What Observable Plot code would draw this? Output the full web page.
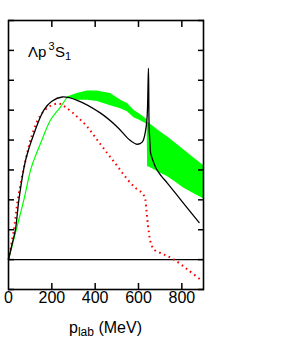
<!DOCTYPE html>
<html>
<head>
<meta charset="utf-8">
<script src="https://cdn.jsdelivr.net/npm/d3@7"></script>
<script src="https://cdn.jsdelivr.net/npm/@observablehq/plot@0.6"></script>
<style>
  html, body { margin: 0; padding: 0; background: #fff; }
  #chart svg { display: block; }
</style>
</head>
<body>
<div id="chart"></div>
<script>
// x tick labels
const xTicks = [0, 200, 400, 600, 800];
const yTicks = [-10, 0, 10, 20, 30, 40, 50, 60, 70, 80];

// black solid curve
const blackX = [0, 16, 32, 48, 78, 117, 163, 200, 248, 317, 425, 502, 560, 595, 618, 633, 640, 646, 649, 653, 656, 665, 683, 705, 733, 795, 880];
const blackY = [0, 5, 10, 20, 33, 42, 50, 53, 54.4, 53.3, 49, 44.4, 40, 38.6, 39.4, 43.3, 48, 64, 44.4, 39, 35.6, 33.5, 30.3, 28, 25.6, 20, 12.4];

// red dotted curve
const redX = [0, 25, 43, 78, 110, 148, 186, 233, 264, 317, 364, 410, 456, 495, 533, 579, 618, 630, 636, 641, 647, 653, 662, 672, 718, 764, 826, 895];
const redY = [0, 10, 20, 33, 42, 48.3, 51.1, 52.2, 51, 47.8, 44.4, 40, 35.6, 32, 28.3, 24.4, 22.2, 20.5, 17, 13.3, 9.5, 6.7, 4.5, 3.3, 1.7, 0, -3.3, -7.2];

// green thin line (low momenta)
const greenX = [0, 50, 71, 102, 117, 148, 194, 240, 271];
const greenY = [0, 14, 20, 30, 33.3, 38.9, 46.7, 51.1, 54.4];

// green band
const bandX = [271, 317, 364, 410, 471, 518, 549, 579, 610, 633, 640, 642, 649, 700, 733, 770, 810, 850, 900];
const bandTop = [54.4, 55.6, 56.4, 56.4, 55.6, 53.3, 52.2, 50, 48.5, 47.2, 46.8, 46, 45.6, 42.8, 41.1, 39, 36.7, 34.3, 31.5];
const bandBot = [54.4, 53.3, 53.3, 52.9, 51.5, 50.5, 49.5, 47.5, 46.5, 45.5, 45, 31, 31, 29, 27.8, 26, 23.9, 22.3, 20.4];

const zip2 = (xs, ys) => xs.map((x, i) => ({x, y: ys[i]}));
const black = zip2(blackX, blackY);
const red = zip2(redX, redY);
const green = zip2(greenX, greenY);
const band = bandX.map((x, i) => ({x, y1: bandBot[i], y2: bandTop[i]}));

const font = "Liberation Sans, Arial, Helvetica, sans-serif";

const chart = Plot.plot({
  width: 292,
  height: 337,
  marginLeft: 8,
  marginRight: 89,
  marginTop: 20,
  marginBottom: 48,
  style: {fontFamily: font, background: "#fff", color: "#000"},
  x: {domain: [0, 900]},
  y: {domain: [-10, 80]},
  marks: [
    Plot.areaY(band, {x: "x", y1: "y1", y2: "y2", fill: "#00ff00", curve: "linear"}),
    Plot.line(green, {x: "x", y: "y", stroke: "#00ff00", strokeWidth: 1.2, curve: "catmull-rom"}),
    Plot.ruleY([0], {stroke: "#000", strokeWidth: 1.2}),
    Plot.line(red, {x: "x", y: "y", stroke: "#ff0000", strokeWidth: 2, strokeDasharray: "1.6,3.6", strokeLinecap: "butt", curve: "catmull-rom"}),
    Plot.line(black, {x: "x", y: "y", stroke: "#000", strokeWidth: 1.3, curve: "catmull-rom"}),
    Plot.axisX({anchor: "bottom", ticks: xTicks.slice(1), tickSize: -6, tickFormat: () => "", label: null, strokeWidth: 1.5}),
    Plot.axisX({anchor: "top", ticks: xTicks.slice(1), tickSize: -6, tickFormat: () => "", label: null, strokeWidth: 1.5}),
    Plot.axisY({anchor: "left", ticks: yTicks, tickSize: -6, tickFormat: () => "", label: null, strokeWidth: 1.5}),
    Plot.axisY({anchor: "right", ticks: yTicks, tickSize: -6, tickFormat: () => "", label: null, strokeWidth: 1.5}),
    Plot.axisX({anchor: "bottom", ticks: xTicks, tickSize: 0, tickPadding: 2, fontSize: 16, label: null, tickFormat: d => String(d)}),
    Plot.frame({stroke: "#000", strokeWidth: 1.6})
  ]
});

const svg = d3.select(chart);
const title = svg.append("text")
  .attr("x", 28).attr("y", 56.5).attr("text-anchor", "start")
  .attr("font-family", font).attr("font-size", 15).attr("fill", "#000");
title.append("tspan").text("Λp");
title.append("tspan").attr("dx", 2).attr("dy", -7).attr("font-size", 11).text("3");
title.append("tspan").attr("dx", 0.5).attr("dy", 7).text("S");
title.append("tspan").attr("dy", 3.5).attr("font-size", 11).text("1");

const xl = svg.append("text")
  .attr("x", 105.5).attr("y", 332.5).attr("text-anchor", "middle")
  .attr("font-family", font).attr("font-size", 16).attr("fill", "#000");
xl.append("tspan").text("p");
xl.append("tspan").attr("dy", 3).attr("font-size", 12).text("lab");
xl.append("tspan").attr("dy", -3).text(" (MeV)");

document.getElementById("chart").appendChild(chart);
</script>
</body>
</html>
